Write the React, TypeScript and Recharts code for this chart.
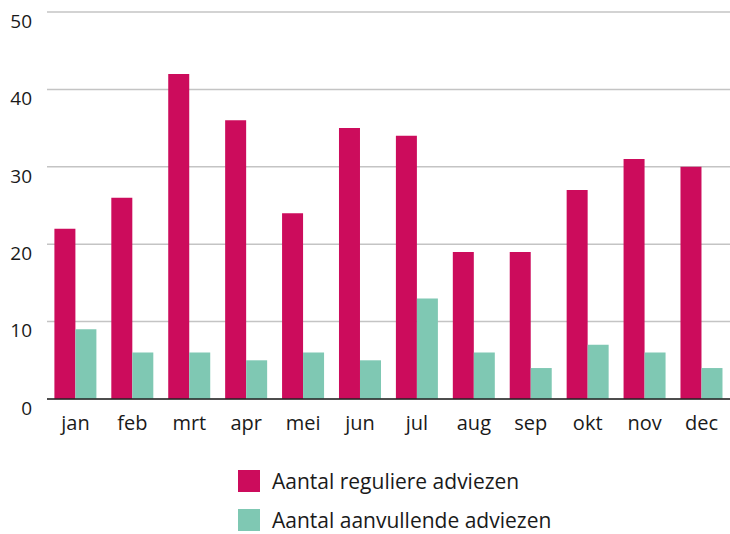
import { Bar, BarChart, CartesianGrid, Legend, XAxis, YAxis } from "recharts";

const months = ["jan", "feb", "mrt", "apr", "mei", "jun", "jul", "aug", "sep", "okt", "nov", "dec"];
const reguliere = [22, 26, 42, 36, 24, 35, 34, 19, 19, 27, 31, 30];
const aanvullende = [9, 6, 6, 5, 6, 5, 13, 6, 4, 7, 6, 4];
const yTicks = [0, 10, 20, 30, 40, 50];

const series = [
  { key: "reguliere", name: "Aantal reguliere adviezen", color: "#CC0C5C" },
  { key: "aanvullende", name: "Aantal aanvullende adviezen", color: "#7FC8B3" },
];

const data = months.map((m, i) => ({ month: m, reguliere: reguliere[i], aanvullende: aanvullende[i] }));

const font = "'Open Sans', sans-serif";

function LegendBox() {
  return (
    <div style={{ height: 90, boxSizing: "border-box", paddingTop: 26, marginLeft: 238 }}>
      {series.map((s, i) => (
        <div
          key={s.key}
          style={{ display: "flex", alignItems: "center", height: 22, marginBottom: i === 0 ? 17 : 0 }}
        >
          <span style={{ width: 22, height: 22, background: s.color, display: "inline-block", marginRight: 12 }} />
          <span style={{ fontFamily: font, fontSize: 21, lineHeight: "22px", color: "#1a1a1a" }}>{s.name}</span>
        </div>
      ))}
    </div>
  );
}

export default function App() {
  return (
    <div style={{ position: "absolute", left: 0, top: 0, background: "#fff" }}>
      <BarChart
        width={730}
        height={534}
        data={data}
        margin={{ top: 12, right: 0, left: 0, bottom: 0 }}
        barCategoryGap="13%"
        barGap={0}
      >
        <CartesianGrid vertical={false} stroke="#c4c4c4" strokeWidth={1.5} />
        <XAxis
          dataKey="month"
          tickLine={false}
          axisLine={{ stroke: "#222", strokeWidth: 1.5 }}
          height={45}
          tick={{ fontFamily: font, fontSize: 20, fill: "#1a1a1a", dy: 9 }}
        />
        <YAxis
          domain={[0, 50]}
          ticks={yTicks}
          width={47}
          tickLine={false}
          axisLine={false}
          tickMargin={9}
          tick={{ fontFamily: font, fontSize: 19, fill: "#1a1a1a", dy: 9 }}
        />
        <Legend verticalAlign="bottom" content={() => <LegendBox />} />
        {series.map((s) => (
          <Bar key={s.key} dataKey={s.key} name={s.name} fill={s.color} isAnimationActive={false} />
        ))}
      </BarChart>
    </div>
  );
}
